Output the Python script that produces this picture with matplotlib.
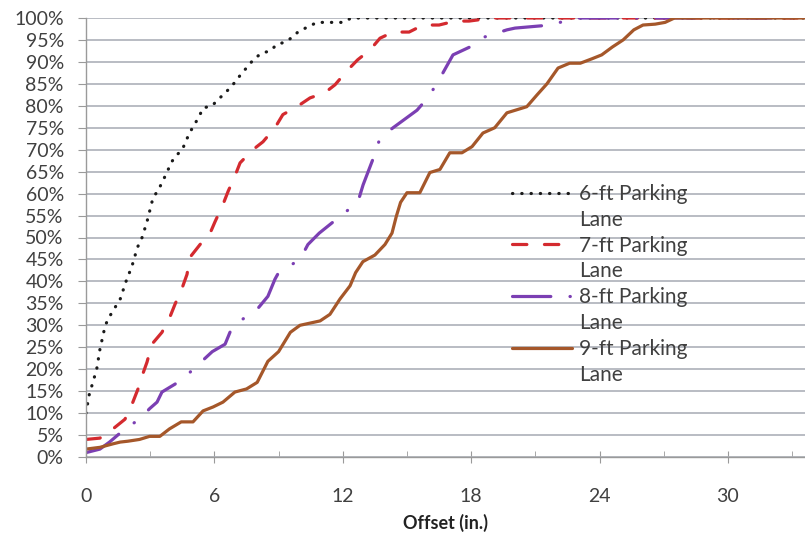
import matplotlib
matplotlib.use("Agg")
import matplotlib.pyplot as plt
from matplotlib.lines import Line2D
from matplotlib.ticker import MultipleLocator, PercentFormatter

plt.rcParams['font.family'] = ['Lato', 'DejaVu Sans']

# cumulative share of vehicles vs offset (in.)
x6 = [0, 0.14, 0.5, 0.65, 0.9, 1.1, 1.35, 1.6, 1.87, 2.15, 2.4, 2.62, 2.85, 3.13, 3.4, 3.6,
      3.8, 3.97, 4.2, 4.5, 4.67, 4.86, 5.1, 5.28, 5.47, 5.89, 6.17, 6.45, 6.78, 7.06, 7.29,
      7.57, 7.85, 8.22, 8.6, 8.93, 9.3, 9.67, 9.9, 10.37, 10.8, 11.3, 12.0, 12.4, 34]
y6 = [10, 14, 20, 24.5, 30, 32, 34, 36, 40, 43.5, 47.7, 50, 53.6, 59, 61, 63,
      65, 67, 68.6, 70, 72, 74, 76, 77.5, 79.5, 80, 81.4, 82.7, 84.3, 86, 87.5,
      89, 90.7, 92, 92.5, 94, 94.5, 95.7, 96.8, 98, 99, 99, 99, 100, 100]

x7 = [0, 0.65, 1.26, 1.82, 2.15, 2.43, 2.66, 2.85, 3.08, 3.55, 3.93, 4.16, 4.5, 4.72, 4.86,
      5.33, 5.8, 6.03, 6.4, 6.64, 6.96, 7.2, 7.8, 8.27, 8.83, 9.2, 9.86, 10.47, 11.17, 11.64,
      12.2, 12.7, 13.27, 13.74, 14.35, 15.1, 15.75, 16.5, 17.25, 17.9, 19.0, 34]
y7 = [4, 4.3, 6.4, 8.6, 12, 15.5, 19, 21.6, 25.7, 28.4, 32, 34.8, 38.6, 41.6, 45.5,
      48.4, 51, 53.6, 57.5, 60.5, 64, 67, 70, 71.8, 75, 78, 79.8, 81.8, 83, 84.8,
      88, 90.5, 92.7, 95.4, 96.8, 96.8, 98.4, 98.4, 99.3, 99.3, 100, 100]

x8 = [0, 0.65, 1.1, 1.82, 2.5, 2.97, 3.32, 3.55, 4.16, 4.77, 5.9, 6.5, 6.82, 7.2, 7.99,
      8.5, 8.83, 9.0, 10.0, 10.37, 10.9, 12.1, 12.7, 12.95, 13.5, 13.74, 14.35, 15.47, 16.0,
      16.45, 17.15, 17.94, 18.64, 19.67, 20.05, 21.7, 22.9, 34]
y8 = [1, 1.8, 3.4, 6.4, 8.6, 11, 12.5, 14.8, 16.6, 18.9, 24, 25.7, 29.5, 31, 33.6,
      36.6, 40.5, 42, 45, 48.4, 51, 55.7, 58, 62, 69, 72.7, 75, 79, 82,
      85.5, 91.6, 93.4, 95.7, 97.3, 97.7, 98.4, 100, 100]

x9 = [0, 0.65, 1.26, 1.6, 1.96, 2.5, 2.97, 3.45, 3.9, 4.45, 5.0, 5.47, 5.94, 6.4, 6.96,
      7.5, 8.0, 8.5, 9.0, 9.55, 10.0, 10.94, 11.4, 11.87, 12.34, 12.6, 12.94, 13.5, 13.97,
      14.3, 14.5, 14.7, 15.0, 15.6, 16.07, 16.54, 17.0, 17.57, 18.04, 18.55, 19.1, 19.67,
      20.6, 21.08, 21.54, 22.06, 22.6, 23.1, 23.64, 24.1, 24.6, 25.1, 25.6, 26.03, 26.6,
      27.06, 27.5, 34]
y9 = [1.8, 2.2, 3, 3.4, 3.6, 4, 4.7, 4.7, 6.4, 8, 8, 10.5, 11.4, 12.5, 14.8,
      15.5, 17, 21.8, 24, 28.4, 30, 31, 32.5, 36, 39, 42, 44.5, 46, 48.4,
      51, 54.8, 58, 60.2, 60.2, 64.8, 65.5, 69.3, 69.3, 70.7, 73.8, 75, 78.4,
      79.8, 82.5, 85, 88.6, 89.7, 89.7, 90.7, 91.6, 93.4, 95, 97.3, 98.4, 98.6,
      99, 100, 100]

labels = ['6-ft Parking', '7-ft Parking', '8-ft Parking', '9-ft Parking']
colors = ['#1a1a1a', '#d42a2f', '#7b3fb3', '#a5572a']

fig = plt.figure(figsize=(8.05, 5.38), dpi=100)
ax = fig.add_axes([86 / 805, 81 / 538, 719 / 805, 439 / 538])

lw = 2.3
l6, = ax.plot(x6, y6, color=colors[0], lw=lw, linestyle=(0, (0.1, 2.8)),
              dash_capstyle='round')
l7, = ax.plot(x7, y7, color=colors[1], lw=lw, linestyle=(0, (4.5, 5.5)),
              dash_capstyle='round')
l8, = ax.plot(x8, y8, color=colors[2], lw=lw, linestyle=(0, (12, 6, 0.1, 6)),
              dash_capstyle='round')
l9, = ax.plot(x9, y9, color=colors[3], lw=lw, solid_capstyle='round')

ax.set_xlim(0, 33.6)
ax.set_ylim(0, 100)
ax.yaxis.set_major_locator(MultipleLocator(5))
ax.yaxis.set_major_formatter(PercentFormatter(decimals=0))
ax.xaxis.set_major_locator(MultipleLocator(6))
ax.xaxis.set_minor_locator(MultipleLocator(3))

ax.grid(axis='y', color='#adb0b9', lw=1.2)
ax.set_axisbelow(True)
for s in ['top', 'right']:
    ax.spines[s].set_visible(False)
for s in ['left', 'bottom']:
    ax.spines[s].set_color('#9a9a9a')
    ax.spines[s].set_linewidth(1.0)

ax.tick_params(axis='y', direction='out', length=6, color='#9a9a9a', pad=10,
               labelsize=14, labelcolor='#404040')
ax.tick_params(axis='x', which='major', direction='inout', length=9, color='#9a9a9a',
               pad=18, labelsize=14, labelcolor='#404040')
ax.tick_params(axis='x', which='minor', direction='in', length=4, color='#9a9a9a')

ax.set_xlabel('Offset (in.)', fontsize=13, fontweight='bold', color='#222222', labelpad=6)

# legend rows: each label wraps onto a second "Lane" line
blank = Line2D([], [], linestyle='none')
handles = []
names = []
for h, lab in zip([l6, l7, l8, l9], labels):
    handles += [h, blank]
    names += [lab, 'Lane']
leg = ax.legend(handles, names, loc='upper left', bbox_to_anchor=(0.592, 0.622),
                frameon=False, fontsize=15, handlelength=2.9, handletextpad=0.35,
                labelspacing=0.28, borderpad=0, borderaxespad=0)
for t in leg.get_texts():
    t.set_color('#404040')

fig.savefig('out.png', dpi=100)
